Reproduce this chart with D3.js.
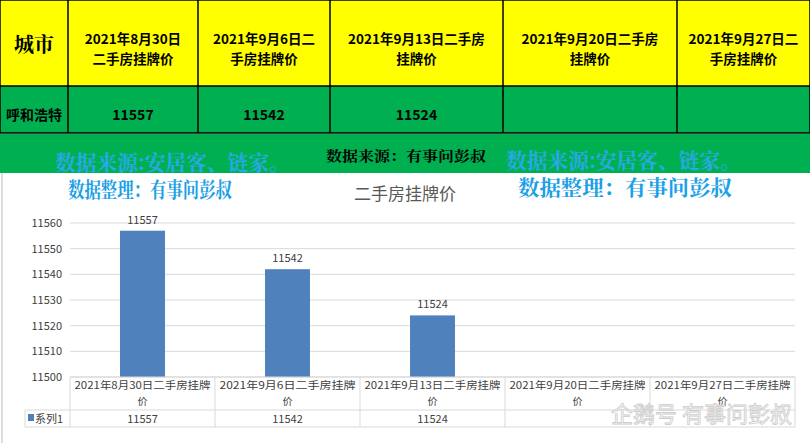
<!DOCTYPE html>
<html><head><meta charset="utf-8">
<script src="https://cdn.jsdelivr.net/npm/d3@7"></script>
<style>body{margin:0;background:#fff}svg{display:block}</style>
</head><body><svg id="c" width="810" height="443"></svg>
<script>
const dates = ["2021年8月30日", "2021年9月6日", "2021年9月13日", "2021年9月20日", "2021年9月27日"];
const headerLines = [["2021年8月30日", "二手房挂牌价"], ["2021年9月6日二", "手房挂牌价"], ["2021年9月13日二手房", "挂牌价"],
  ["2021年9月20日二手房", "挂牌价"], ["2021年9月27日二", "手房挂牌价"]];
const values = [11557, 11542, 11524, null, null];
const city = "呼和浩特";
const yTicks = [11500, 11510, 11520, 11530, 11540, 11550, 11560];

const svg = d3.select("#c");
const font = "'Noto Sans CJK SC', sans-serif";

// top table
const colX = [0, 68, 198, 330, 503, 677, 810];
const rowY = [0, 86, 133];
svg.append("rect").attr("x", 0).attr("y", 0).attr("width", 810).attr("height", 86).attr("fill", "#ffff00");
svg.append("rect").attr("x", 0).attr("y", 86).attr("width", 810).attr("height", 47).attr("fill", "#00b050");
colX.forEach(x => svg.append("line").attr("x1", x).attr("x2", x).attr("y1", 0).attr("y2", 133)
  .attr("stroke", "#000").attr("stroke-width", 1.5));
rowY.forEach(y => svg.append("line").attr("x1", 0).attr("x2", 810).attr("y1", y).attr("y2", y)
  .attr("stroke", "#000").attr("stroke-width", 1.5));
svg.append("text").attr("x", 34).attr("y", 52).attr("text-anchor", "middle")
  .attr("font-family", "'Noto Serif CJK SC', " + font).attr("font-weight", "bold").attr("font-size", 20).text("城市");
dates.forEach((d, i) => {
  const cx = (colX[i + 1] + colX[i + 2]) / 2;
  headerLines[i].forEach((t, j) => svg.append("text").attr("x", cx).attr("y", 44 + j * 20).attr("text-anchor", "middle")
    .attr("font-family", font).attr("font-weight", "bold").attr("font-size", 13.5).text(t));
  if (values[i] != null) svg.append("text").attr("x", cx).attr("y", 120).attr("text-anchor", "middle")
    .attr("font-family", font).attr("font-weight", "bold").attr("font-size", 14).text(values[i]);
});
svg.append("text").attr("x", 34).attr("y", 120).attr("text-anchor", "middle")
  .attr("font-family", font).attr("font-weight", "bold").attr("font-size", 14).text(city);

// green band
svg.append("rect").attr("x", 0).attr("y", 134).attr("width", 810).attr("height", 39).attr("fill", "#00b050");
svg.append("line").attr("x1", 2).attr("x2", 2).attr("y1", 173).attr("y2", 443).attr("stroke", "#bbb");
const wm = (x, y, t, s, c, len) => svg.append("text").attr("x", x).attr("y", y).attr("font-family", "'Noto Serif CJK SC', " + font)
  .attr("font-weight", "bold").attr("font-size", s).attr("fill", c)
  .attr("textLength", len).attr("lengthAdjust", "spacingAndGlyphs").text(t);
wm(55, 170, "数据来源:安居客、链家。", 21, "#2aa8e8", 235);
wm(506, 168, "数据来源:安居客、链家。", 21, "#2aa8e8", 235);
wm(326, 161, "数据来源：有事问彭叔", 14, "#000", 160);
wm(68, 197, "数据整理：有事问彭叔", 21, "#1aa0e6", 164);
wm(518, 195, "数据整理：有事问彭叔", 21, "#1aa0e6", 214);
svg.append("text").attr("x", 405).attr("y", 200).attr("text-anchor", "middle").attr("font-family", font)
  .attr("font-size", 17).attr("fill", "#595959").text("二手房挂牌价");

// chart
const x = d3.scaleBand().domain(dates).range([70, 795]).paddingInner(0.69).paddingOuter(0.345);
const y = d3.scaleLinear().domain([11500, 11560]).range([377, 223]);
const g = svg.append("g");
g.selectAll(".grid").data(yTicks).join("line").attr("x1", 70).attr("x2", 795)
  .attr("y1", d => y(d)).attr("y2", d => y(d)).attr("stroke", "#d9d9d9");
g.selectAll(".yt").data(yTicks).join("text").attr("x", 62).attr("y", d => y(d) + 4).attr("text-anchor", "end")
  .attr("font-family", font).attr("font-size", 11).attr("fill", "#404040").text(d => d);
const data = dates.map((d, i) => ({ d, v: values[i] })).filter(o => o.v != null);
g.selectAll(".bar").data(data).join("rect").attr("x", o => x(o.d)).attr("width", x.bandwidth())
  .attr("y", o => y(o.v)).attr("height", o => y(11500) - y(o.v)).attr("fill", "#4f81bd");
g.selectAll(".lbl").data(data).join("text").attr("x", o => x(o.d) + x.bandwidth() / 2).attr("y", o => y(o.v) - 7)
  .attr("text-anchor", "middle").attr("font-family", font).attr("font-size", 11).attr("fill", "#404040").text(o => o.v);

// data table
const step = x.step();
const tx = d => x(d) - x.paddingOuter() * step;
const tl = "#d9d9d9";
[377, 410, 427].forEach(yy => svg.append("line").attr("x1", yy === 377 ? 70 : 25).attr("x2", 795)
  .attr("y1", yy).attr("y2", yy).attr("stroke", tl));
svg.append("line").attr("x1", 25).attr("x2", 25).attr("y1", 410).attr("y2", 427).attr("stroke", tl);
dates.forEach((d, i) => {
  const l = tx(d);
  svg.append("line").attr("x1", l).attr("x2", l).attr("y1", 377).attr("y2", 427).attr("stroke", tl);
  const cx = l + step / 2;
  svg.append("text").attr("x", cx).attr("y", 389).attr("text-anchor", "middle").attr("font-family", font)
    .attr("font-size", 10).attr("fill", "#404040").attr("textLength", 136).attr("lengthAdjust", "spacingAndGlyphs")
    .text(d + "二手房挂牌");
  svg.append("text").attr("x", cx).attr("y", 405).attr("text-anchor", "middle").attr("font-family", font)
    .attr("font-size", 10).attr("fill", "#404040").text("价");
  if (values[i] != null) svg.append("text").attr("x", cx).attr("y", 423).attr("text-anchor", "middle")
    .attr("font-family", font).attr("font-size", 11).attr("fill", "#404040").text(values[i]);
});
svg.append("line").attr("x1", 795).attr("x2", 795).attr("y1", 377).attr("y2", 427).attr("stroke", tl);
svg.append("rect").attr("x", 28).attr("y", 414).attr("width", 6).attr("height", 7).attr("fill", "#4f81bd");
svg.append("text").attr("x", 35).attr("y", 423).attr("font-family", font).attr("font-size", 11).attr("fill", "#404040").text("系列1");

// watermark
svg.append("text").attr("x", 792).attr("y", 422).attr("text-anchor", "end").attr("font-family", font)
  .attr("font-size", 22).attr("fill", "#fff").attr("fill-opacity", 0.6).attr("stroke", "#ccc").attr("stroke-width", 0.8)
  .text("企鹅号 有事问彭叔");
</script></body></html>
